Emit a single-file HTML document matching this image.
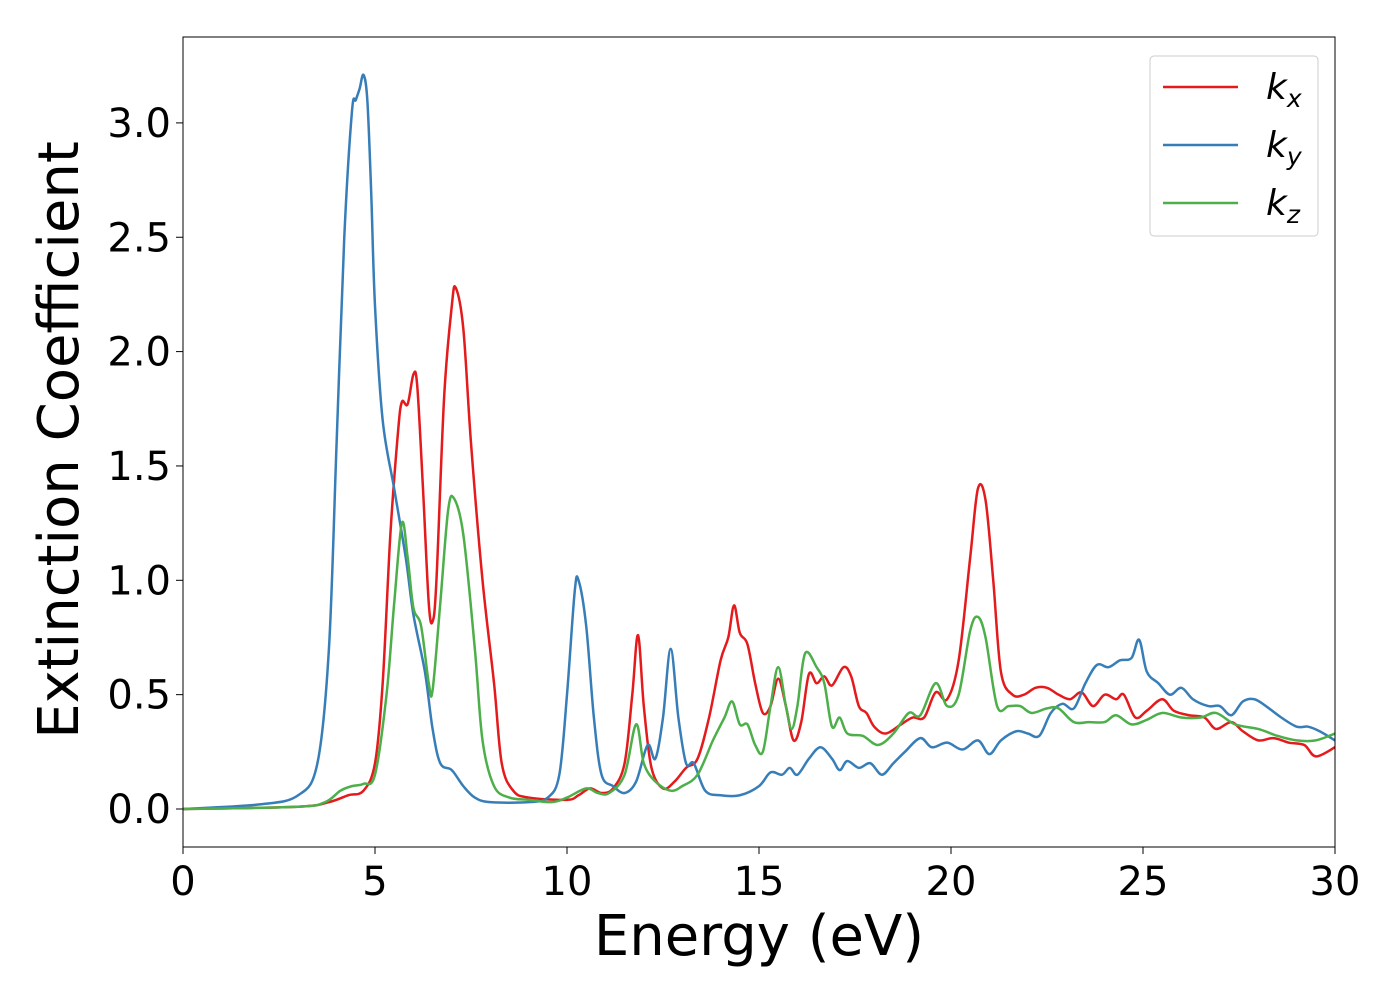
<!DOCTYPE html>
<html><head><meta charset="utf-8"><style>
body{margin:0;background:#fff;width:1400px;height:1000px;overflow:hidden}
svg{font-family:"DejaVu Sans","Liberation Sans",sans-serif}
</style></head><body>
<svg id="chart" width="1400" height="1000" xmlns="http://www.w3.org/2000/svg">
<g id="plot"></g>
</svg>
<script>
const xTicks=[0,5,10,15,20,25,30];
const yTicks=[0.0,0.5,1.0,1.5,2.0,2.5,3.0];
const yTickLabels=["0.0","0.5","1.0","1.5","2.0","2.5","3.0"];
const kyE=[0,2,3,3.5,3.8,4.0,4.2,4.4,4.5,4.6,4.7,4.8,4.9,5.0,5.2,5.5,5.8,6.0,6.3,6.5,6.7,7.0,7.3,7.6,8,9,9.5,9.8,10.0,10.2,10.3,10.5,10.7,10.9,11.2,11.5,11.8,12.1,12.3,12.5,12.7,12.9,13.1,13.3,13.6,14,14.5,15,15.3,15.6,15.8,16,16.3,16.6,16.9,17.1,17.3,17.6,17.9,18.2,18.5,18.8,19.2,19.5,19.9,20.3,20.7,21.0,21.3,21.7,22.0,22.3,22.6,22.9,23.2,23.5,23.8,24.1,24.4,24.7,24.9,25.1,25.4,25.7,26.0,26.3,26.7,27.0,27.3,27.6,27.9,28.2,28.6,29,29.3,29.6,30];
const kyV=[0,0.02,0.06,0.2,0.7,1.6,2.5,3.05,3.1,3.15,3.21,3.1,2.7,2.2,1.7,1.4,1.1,0.85,0.6,0.35,0.2,0.17,0.1,0.05,0.03,0.03,0.05,0.15,0.5,0.95,1.0,0.8,0.4,0.15,0.1,0.07,0.12,0.28,0.22,0.4,0.7,0.4,0.2,0.2,0.08,0.06,0.06,0.1,0.16,0.15,0.18,0.15,0.22,0.27,0.22,0.17,0.21,0.18,0.2,0.15,0.2,0.25,0.31,0.27,0.29,0.26,0.3,0.24,0.3,0.34,0.33,0.32,0.42,0.46,0.44,0.55,0.63,0.62,0.65,0.66,0.74,0.6,0.55,0.5,0.53,0.48,0.45,0.45,0.41,0.47,0.48,0.45,0.4,0.36,0.36,0.34,0.3];
const kxE=[0,3,3.8,4.3,4.7,5.0,5.2,5.4,5.6,5.7,5.85,6.0,6.1,6.25,6.4,6.5,6.6,6.8,7.0,7.1,7.3,7.5,7.8,8.1,8.3,8.6,9,10,10.3,10.6,10.9,11.2,11.5,11.7,11.85,12.0,12.2,12.5,12.8,13.1,13.4,13.7,14.0,14.2,14.35,14.5,14.7,14.9,15.1,15.3,15.5,15.7,15.9,16.1,16.3,16.5,16.7,16.9,17.2,17.4,17.6,17.8,18,18.3,18.7,19,19.3,19.6,19.9,20.2,20.5,20.7,20.9,21.1,21.3,21.6,21.9,22.2,22.5,22.8,23.1,23.4,23.7,24.0,24.3,24.5,24.8,25.1,25.5,25.8,26.2,26.6,26.9,27.3,27.6,28,28.4,28.8,29.2,29.5,30];
const kxV=[0,0.01,0.03,0.06,0.08,0.2,0.55,1.2,1.65,1.78,1.77,1.9,1.85,1.4,0.9,0.82,1.0,1.8,2.2,2.28,2.1,1.6,1.0,0.55,0.2,0.08,0.05,0.04,0.06,0.09,0.07,0.09,0.2,0.5,0.76,0.45,0.18,0.09,0.12,0.18,0.22,0.4,0.65,0.75,0.89,0.77,0.72,0.55,0.42,0.45,0.57,0.45,0.3,0.38,0.59,0.55,0.58,0.54,0.62,0.58,0.45,0.42,0.36,0.33,0.37,0.4,0.4,0.51,0.48,0.65,1.1,1.4,1.35,1.0,0.6,0.5,0.5,0.53,0.53,0.5,0.48,0.51,0.45,0.5,0.48,0.5,0.4,0.43,0.48,0.43,0.41,0.4,0.35,0.38,0.34,0.3,0.31,0.29,0.28,0.23,0.27];
const kzE=[0,3,3.7,4.1,4.4,4.7,5.0,5.3,5.5,5.7,5.85,6.0,6.2,6.4,6.5,6.7,6.9,7.05,7.3,7.6,7.8,8.1,8.5,9,9.6,10,10.5,10.8,11.1,11.5,11.8,12.0,12.3,12.7,13,13.4,13.8,14.1,14.3,14.5,14.7,14.9,15.1,15.3,15.5,15.7,15.85,16.0,16.2,16.5,16.7,16.9,17.1,17.3,17.7,18.1,18.5,18.9,19.2,19.6,19.9,20.2,20.5,20.7,20.9,21.2,21.5,21.8,22.1,22.5,22.8,23.2,23.6,24,24.3,24.7,25.1,25.5,26,26.5,26.9,27.4,28,28.5,29,29.5,30];
const kzV=[0,0.01,0.03,0.08,0.1,0.11,0.15,0.5,0.9,1.25,1.1,0.88,0.8,0.55,0.52,0.9,1.3,1.36,1.2,0.7,0.3,0.1,0.05,0.04,0.03,0.05,0.09,0.07,0.07,0.15,0.37,0.2,0.12,0.08,0.1,0.15,0.3,0.4,0.47,0.37,0.37,0.28,0.25,0.45,0.62,0.45,0.35,0.45,0.68,0.62,0.55,0.36,0.4,0.33,0.32,0.28,0.33,0.42,0.41,0.55,0.45,0.5,0.78,0.84,0.75,0.45,0.45,0.45,0.42,0.44,0.44,0.38,0.38,0.38,0.41,0.37,0.39,0.42,0.4,0.4,0.42,0.37,0.35,0.32,0.3,0.3,0.33];

const L=183,R=1335,T=37,B=847;
const xMin=0,xMax=30,y0px=809,pxPerUnit=228.7;
const X=v=>L+(v-xMin)/(xMax-xMin)*(R-L);
const Y=v=>y0px-v*pxPerUnit;
const NS="http://www.w3.org/2000/svg";
const g=document.getElementById('plot');
function mk(t,a,p){const e=document.createElementNS(NS,t);for(const k in a)e.setAttribute(k,a[k]);(p||g).appendChild(e);return e;}
const defs=mk('defs',{});const cp=mk('clipPath',{id:'cp'},defs);mk('rect',{x:L,y:T,width:R-L,height:B-T},cp);

function smooth(E,V){
  const p=E.map((e,i)=>[X(e),Y(V[i])]);
  let d=`M${p[0][0]},${p[0][1]}`;
  for(let i=0;i<p.length-1;i++){
    const p0=p[i-1]||p[i],p1=p[i],p2=p[i+1],p3=p[i+2]||p2;
    const c1=[p1[0]+(p2[0]-p0[0])/6,p1[1]+(p2[1]-p0[1])/6];
    const c2=[p2[0]-(p3[0]-p1[0])/6,p2[1]-(p3[1]-p1[1])/6];
    d+=`C${c1[0]},${c1[1]} ${c2[0]},${c2[1]} ${p2[0]},${p2[1]}`;
  }
  return d;
}
const series=[["kx",kxE,kxV,"#e41a1c"],["ky",kyE,kyV,"#377eb8"],["kz",kzE,kzV,"#4daf4a"]];
const lg=mk('g',{'clip-path':'url(#cp)'});


series.forEach(s=>{
  const pth=mk('path',{d:smooth(s[1],s[2]),fill:'none',stroke:s[3],'stroke-width':2.5},lg);
  
  
});
const fr=mk('rect',{x:L,y:T,width:R-L,height:B-T,fill:'none',stroke:'#000','stroke-width':1});


xTicks.forEach(v=>{
  const tk=mk('line',{x1:X(v),x2:X(v),y1:B,y2:B+7,stroke:'#000','stroke-width':1});
  
  
  const t=mk('text',{x:X(v),y:B+48,'font-size':40,'text-anchor':'middle'});t.textContent=v;
  
  
});
yTicks.forEach((v,i)=>{
  const tk=mk('line',{x1:L-7,x2:L,y1:Y(v),y2:Y(v),stroke:'#000','stroke-width':1});
  
  
  const t=mk('text',{x:L-12,y:Y(v)+14,'font-size':40,'text-anchor':'end'});t.textContent=yTickLabels[i];
  
  
});
const xt=mk('text',{x:(L+R)/2,y:955,'font-size':56,'text-anchor':'middle'});xt.textContent='Energy (eV)';


const yt=mk('text',{x:78,y:(T+B)/2-2,'font-size':56,'text-anchor':'middle',transform:`rotate(-90 78 ${(T+B)/2-2})`});yt.textContent='Extinction Coefficient';


const leg=mk('g',{});


mk('rect',{x:1150,y:56,width:168,height:180,rx:4,fill:'#fff',stroke:'#ccc','stroke-width':1},leg);
const subs=['x','y','z'];
series.forEach((s,i)=>{
  const y=87+i*58;
  const ln=mk('line',{x1:1163,x2:1238,y1:y,y2:y,stroke:s[3],'stroke-width':2.5},leg);
  
  
  const t=mk('text',{x:1266,y:y+12,'font-size':36,'font-style':'italic'},leg);
  
  
  t.innerHTML=`k<tspan font-size="25" dy="8">${subs[i]}</tspan>`;
});
</script>
</body></html>
